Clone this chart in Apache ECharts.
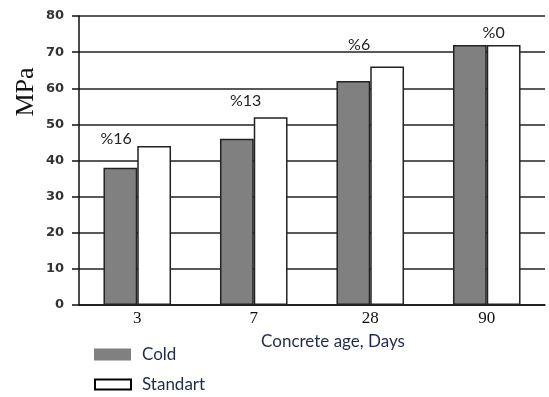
<!DOCTYPE html>
<html><head><meta charset="utf-8">
<script src="https://cdn.jsdelivr.net/npm/echarts@6/dist/echarts.min.js"></script>
<style>html,body{margin:0;padding:0;background:#fff}#c{width:549px;height:397px}</style>
</head><body><div id="c"></div>
<script>
const categories = ['3', '7', '28', '90'];
const coldValues = [38, 46, 62, 72];
const standartValues = [44, 52, 66, 72];
const diffLabels = ['%16', '%13', '%6', '%0'];
const yTicks = [0, 10, 20, 30, 40, 50, 60, 70, 80];

const labelOffsets = [[-38, 6], [-25, -3], [-28, -9], [-10, 1]];
const navy = '#1f2b4d';
const legendText = {fontFamily: 'Lato', fontSize: 17, color: navy, padding: [5, 0, 0, 6]};
const chart = echarts.init(document.getElementById('c'));
chart.setOption({
  animation: false,
  grid: {left: 79, right: 4, top: 16, bottom: 92},
  legend: [
    {left: 89, top: 341, itemWidth: 37, itemHeight: 12, textStyle: legendText,
     data: [{name: 'Cold', icon: 'rect', itemStyle: {color: '#808080', borderWidth: 0}}]},
    {left: 89, top: 371, itemWidth: 36, itemHeight: 10, textStyle: legendText,
     data: [{name: 'Standart', icon: 'rect', itemStyle: {color: '#fff', borderColor: '#000', borderWidth: 2}}]}
  ],
  xAxis: {
    type: 'category', data: categories,
    axisLine: {lineStyle: {color: '#111', width: 1.5}},
    axisTick: {show: false},
    axisLabel: {fontFamily: 'Liberation Serif', fontSize: 17, color: '#111', margin: 5}
  },
  yAxis: {
    type: 'value', min: yTicks[0], max: yTicks[yTicks.length - 1], interval: 10,
    axisLine: {show: true, lineStyle: {color: '#111', width: 1.5}},
    axisTick: {show: true, length: 7, lineStyle: {color: '#111', width: 1.5}},
    splitLine: {lineStyle: {color: '#222', width: 1.5}},
    axisLabel: {fontFamily: 'DejaVu Sans', fontWeight: 'bold', fontSize: 13, color: '#333', margin: 15}
  },
  graphic: [
    {type: 'text', x: 26, y: 92, rotation: Math.PI / 2,
     style: {text: 'MPa', font: '26px "Liberation Serif"', fill: '#111', textAlign: 'center', textVerticalAlign: 'middle'}},
    {type: 'text', x: 333, y: 342,
     style: {text: 'Concrete age, Days', font: '17px Lato', fill: navy, textAlign: 'center', textVerticalAlign: 'middle'}}
  ],
  series: [
    {name: 'Cold', type: 'bar', data: coldValues, barGap: '0%', barCategoryGap: '42%',
     itemStyle: {color: '#808080', borderColor: '#222', borderWidth: 1.5}},
    {name: 'Standart', type: 'bar',
     data: standartValues.map((v, i) => ({value: v, label: {show: true, position: 'top', formatter: diffLabels[i], offset: labelOffsets[i]}})),
     itemStyle: {color: '#fff', borderColor: '#222', borderWidth: 1.5},
     label: {fontFamily: 'Lato', fontSize: 16, color: '#222'}}
  ]
});
</script></body></html>
